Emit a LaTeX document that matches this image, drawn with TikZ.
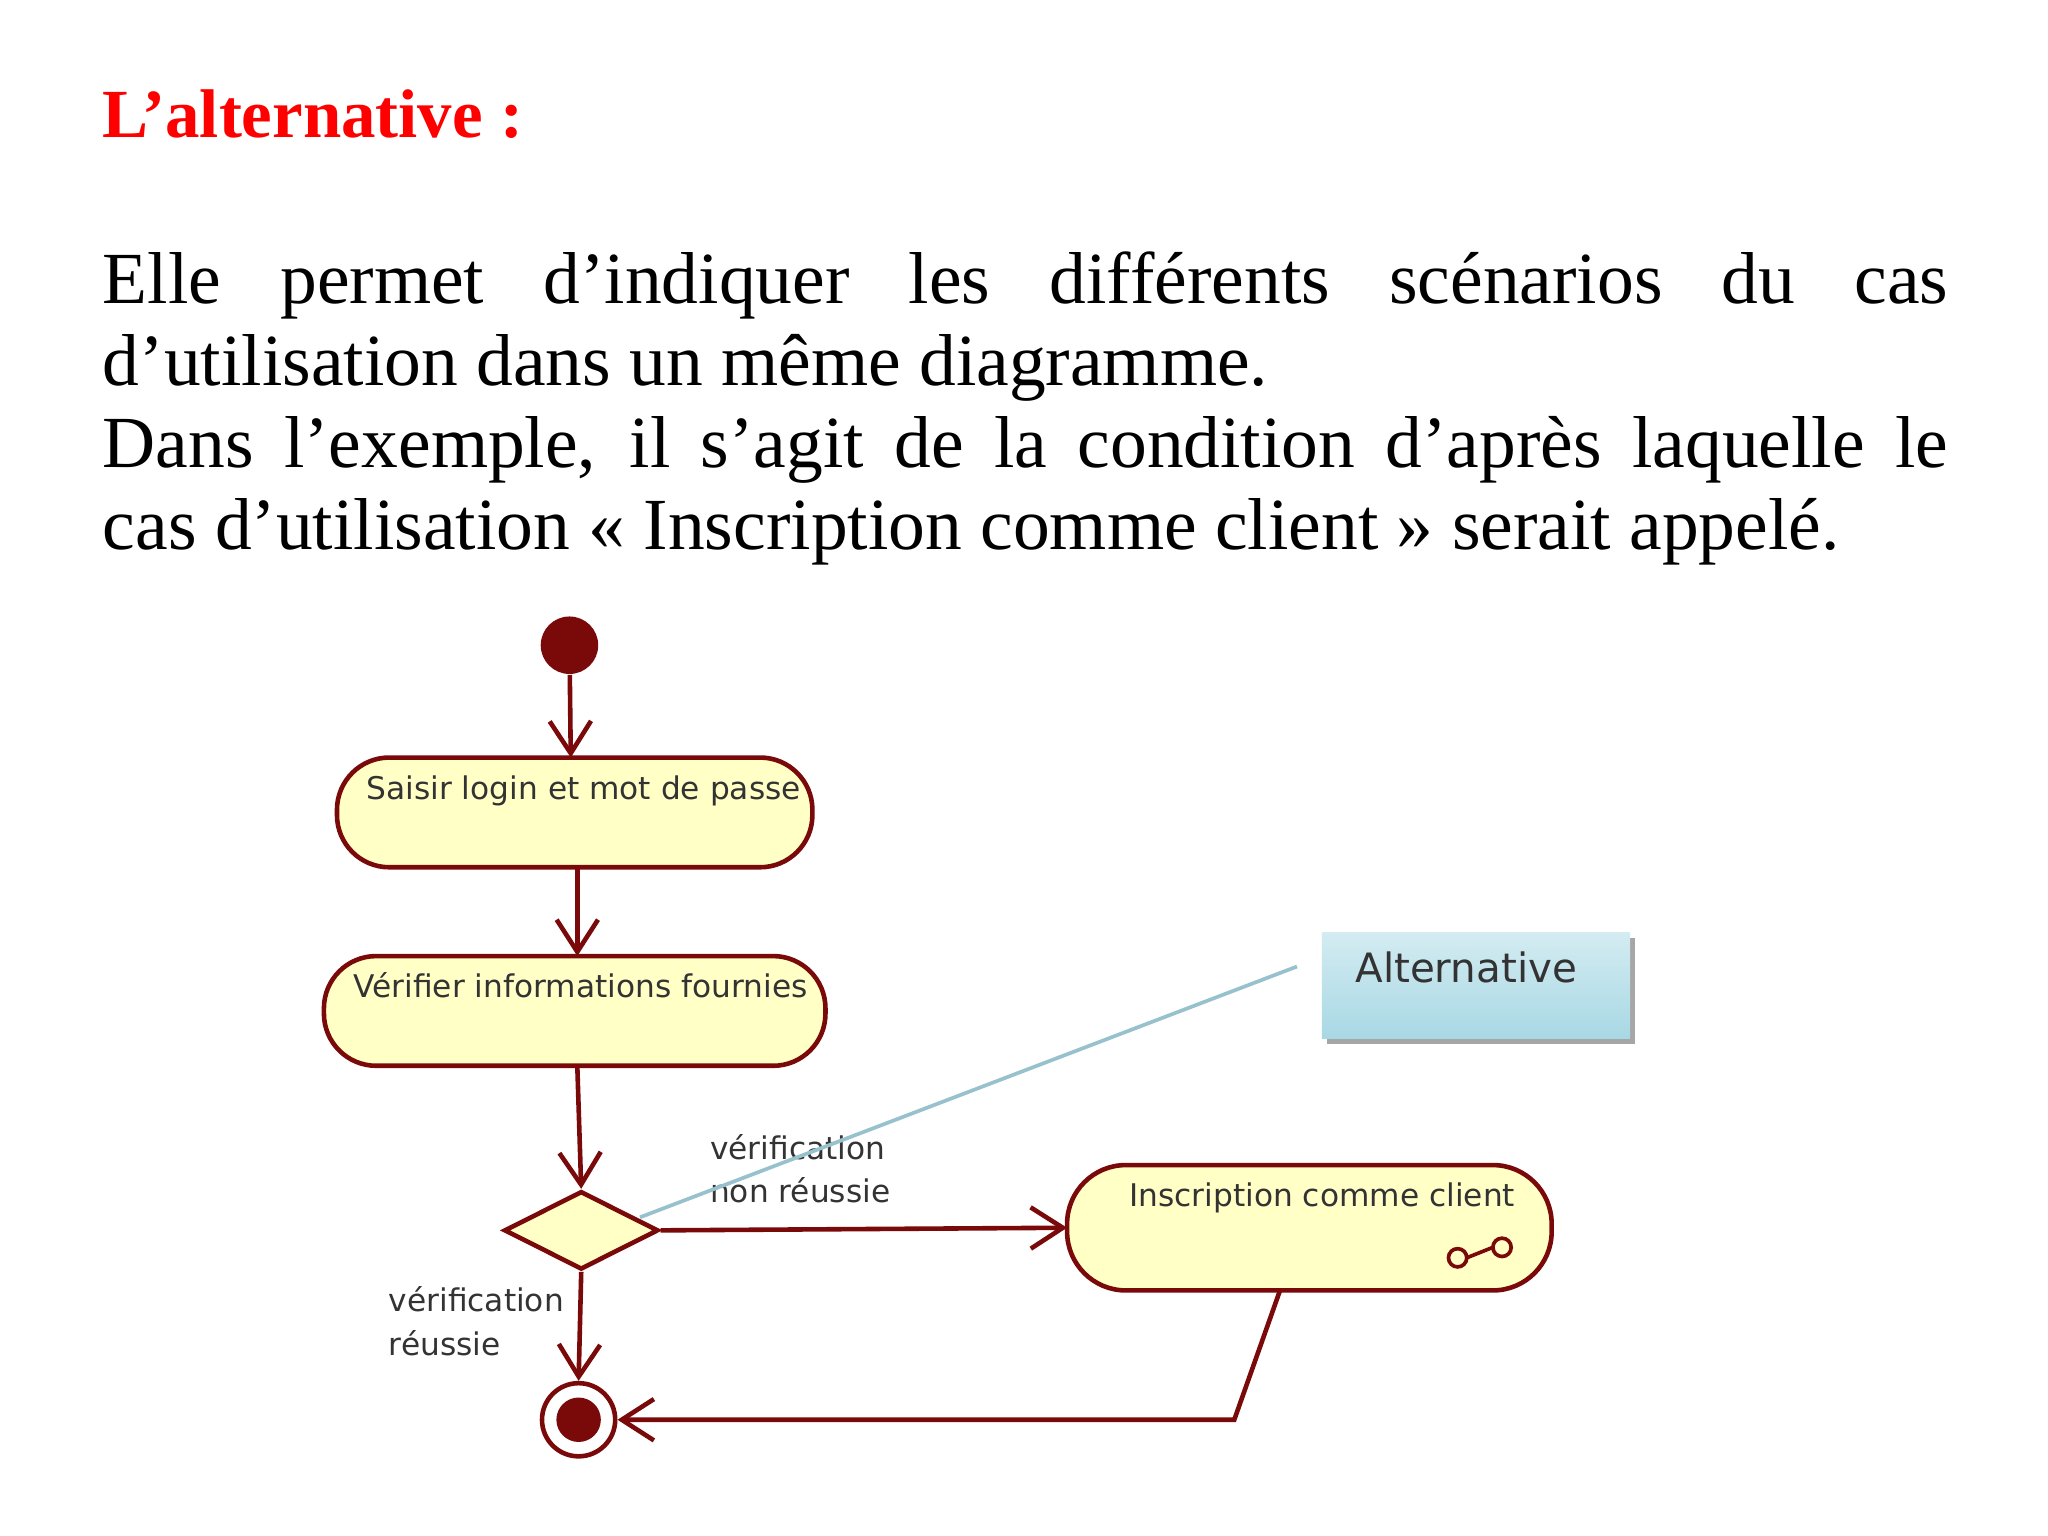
\documentclass[tikz,border=0pt]{standalone}
\usepackage{fontspec}
\setmainfont{Liberation Serif}
\newfontfamily\diagfont{DejaVu Sans}
\usetikzlibrary{arrows.meta,shapes.geometric,shadows}
\definecolor{dred}{HTML}{7A0A0A}
\definecolor{ayel}{HTML}{FFFFC6}
\definecolor{nblue}{HTML}{A8D8E4}
\tikzset{
 act/.style={draw=dred,fill=ayel,rounded corners=0.4cm,line width=1pt},
 lbl/.style={font=\diagfont\fontsize{6.8}{8}\selectfont,anchor=base west,inner sep=0,text=black!80},
 flow/.style={draw=dred,line width=1pt,-{Straight Barb[length=7pt,width=9pt]}},
 body/.style={anchor=base west,inner sep=0,font=\fontsize{16}{19}\selectfont},
}
\begin{document}
\begin{tikzpicture}[x=0.01cm,y=-0.01cm]
\useasboundingbox[fill=white] (0,0) rectangle (1568,1176);
\node[body,text=red,font=\fontsize{15}{18}\selectfont\bfseries] (title) at (78,105) {L’alternative :};
\node[body] (l1) at (78,232) {\makebox[14.12cm][s]{Elle permet d’indiquer les différents scénarios du cas}};
\node[body] (l2) at (78,295) {d’utilisation dans un même diagramme.};
\node[body] (l3) at (78,358) {\makebox[14.12cm][s]{Dans l’exemple, il s’agit de la condition d’après laquelle le}};
\node[body] (l4) at (78,421) {cas d’utilisation « Inscription comme client » serait appelé.};
% start
\node[circle,fill=dred,minimum size=0.44cm,inner sep=0] (start) at (436,494) {};
% actions
\draw[act] (258,580) rectangle (622,664);
\coordinate (a1t) at (437,580); \coordinate (a1b) at (442,664);
\node[lbl] (t1) at (280,612) {Saisir login et mot de passe};
\draw[act] (248,732) rectangle (632,816);
\coordinate (a2t) at (442,732); \coordinate (a2b) at (442,816);
\node[lbl] (t2) at (270,764) {Vérifier informations fournies};
\draw[act,rounded corners=0.45cm] (817,892) rectangle (1188,988);
\coordinate (a3l) at (817,940); \coordinate (a3b) at (980,988);
\node[lbl] (t3) at (864,924) {Inscription comme client};
\draw[dred,line width=0.8pt] (1116,963) circle (7) (1150,955) circle (7) (1123,963) -- (1143,955);
% diamond
\node[diamond,draw=dred,fill=ayel,line width=1pt,minimum width=1.18cm,minimum height=0.6cm,inner sep=0,aspect=2] (dec) at (445,942) {};
% final
\node[circle,draw=dred,line width=1pt,fill=white,minimum size=0.56cm,inner sep=0] (fin) at (443,1087) {};
\node[circle,fill=dred,minimum size=0.34cm,inner sep=0] at (fin) {};
% flows
\draw[flow] (start) -- (a1t);
\draw[flow] (a1b) -- (a2t);
\draw[flow] (a2b) -- (dec.north);
\draw[flow] (dec.east) -- (a3l);
\draw[flow] (dec.south) -- (fin.north);
\coordinate (bend) at (945,1087);
\draw[flow] (a3b) -- (bend) -- (fin.east);
\node[lbl] (v1) at (543,888) {vérification};
\node[lbl] (v2) at (543,921) {non réussie};
\node[lbl] (v3) at (297,1004) {vérification};
\node[lbl] (v4) at (297,1038) {réussie};
% note
\fill[black!35] (1016,718) rectangle (1252,799);
\shade[top color=nblue!50,bottom color=nblue,draw=none] (1012,714) rectangle (1248,795);
\node[lbl,font=\diagfont\fontsize{8.8}{11}\selectfont] (note) at (1037,752) {Alternative};
\coordinate (nc) at (993,740);
\draw[nblue!90!black,line width=0.8pt] (nc) -- (490,932);
\end{tikzpicture}
\end{document}
